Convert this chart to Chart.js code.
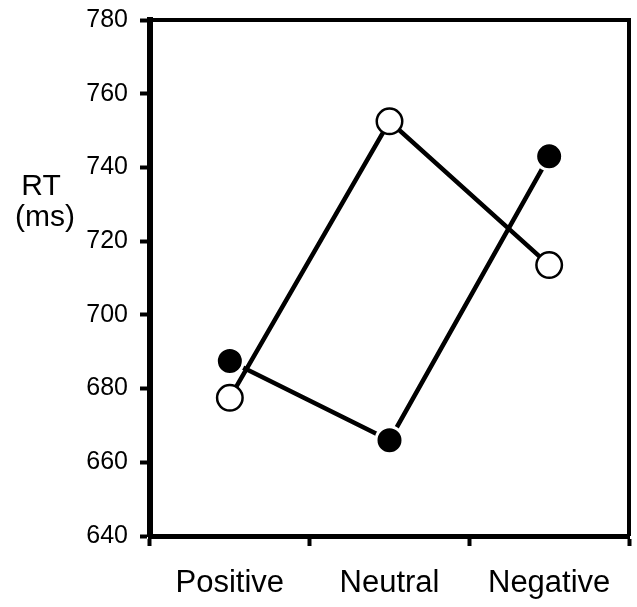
<!DOCTYPE html>
<html>
<head>
<meta charset="utf-8">
<script src="https://cdn.jsdelivr.net/npm/chart.js@4"></script>
<style>
  html, body { margin: 0; padding: 0; background: #fff; overflow: hidden; }
  #wrap { width: 637px; height: 607px; position: relative; }
</style>
</head>
<body>
<div id="wrap"><canvas id="chart"></canvas></div>
<script>
// categories and values
const categories = ['Positive', 'Neutral', 'Negative'];
const filledRT = [687.5, 666, 743];
const openRT = [677.5, 752.5, 713.5];
const yTicks = [640, 660, 680, 700, 720, 740, 760, 780];
const axisLabel = ['RT', '(ms)'];

const FONT = '"Liberation Sans", Arial, sans-serif';

// draws the top/right frame and the horizontal y label
const framePlugin = {
    id: 'frame',
    beforeDatasetsDraw(chart) {
        const { ctx, chartArea } = chart;
        ctx.save();
        ctx.strokeStyle = '#000';
        ctx.lineWidth = 4;
        ctx.beginPath();
        ctx.moveTo(chartArea.left, chartArea.top);
        ctx.lineTo(chartArea.right, chartArea.top);
        ctx.lineTo(chartArea.right, chartArea.bottom);
        ctx.stroke();
        ctx.restore();
    },
    afterDraw(chart) {
        const ctx = chart.ctx;
        ctx.save();
        ctx.fillStyle = '#000';
        ctx.font = '30px ' + FONT;
        ctx.textAlign = 'center';
        ctx.textBaseline = 'alphabetic';
        ctx.fillText(axisLabel[0], 41, 195);
        ctx.fillText(axisLabel[1], 45, 226);
        ctx.restore();
    }
};

const ctx = document.getElementById('chart').getContext('2d');
const chart = new Chart(ctx, {
    type: 'line',
    data: {
        labels: categories,
        datasets: [
            {
                data: filledRT,
                showLine: false,
                pointRadius: 13.5,
                pointBackgroundColor: '#000',
                pointBorderColor: '#fff',
                pointBorderWidth: 3,
                order: 0
            },
            {
                data: openRT,
                showLine: false,
                pointRadius: 12.75,
                pointBackgroundColor: '#fff',
                pointBorderColor: '#000',
                pointBorderWidth: 2.5,
                order: 0
            },
            {
                data: filledRT,
                borderColor: '#000',
                borderWidth: 4.5,
                pointRadius: 0,
                fill: false,
                order: 1
            },
            {
                data: openRT,
                borderColor: '#000',
                borderWidth: 4.5,
                pointRadius: 0,
                fill: false,
                order: 1
            }
        ]
    },
    options: {
        responsive: true,
        maintainAspectRatio: false,
        animation: false,
        devicePixelRatio: 1,
        layout: { autoPadding: false, padding: { top: 20, right: 8, left: 0, bottom: 0 } },
        plugins: {
            legend: { display: false },
            tooltip: { enabled: false }
        },
        scales: {
            x: {
                offset: true,
                grid: {
                    offset: true,
                    drawOnChartArea: false,
                    color: '#000',
                    tickLength: 10,
                    tickWidth: 4
                },
                border: { color: '#000', width: 5 },
                ticks: {
                    color: '#000',
                    font: { family: FONT, size: 31 },
                    padding: 19
                },
                afterFit(scale) {
                    scale.height = 71;
                    scale.paddingLeft = 0;
                    scale.paddingRight = 0;
                }
            },
            y: {
                min: 640,
                max: 780,
                afterBuildTicks(scale) {
                    scale.ticks = yTicks.map(v => ({ value: v }));
                },
                grid: {
                    drawOnChartArea: false,
                    color: '#000',
                    tickLength: 10,
                    tickWidth: 4
                },
                border: { color: '#000', width: 6 },
                ticks: {
                    color: '#000',
                    font: { family: FONT, size: 25 },
                    padding: 12
                },
                afterFit(scale) {
                    scale.width = 150;
                    scale.paddingTop = 0;
                    scale.paddingBottom = 0;
                }
            }
        }
    },
    plugins: [framePlugin]
});
</script>
</body>
</html>
